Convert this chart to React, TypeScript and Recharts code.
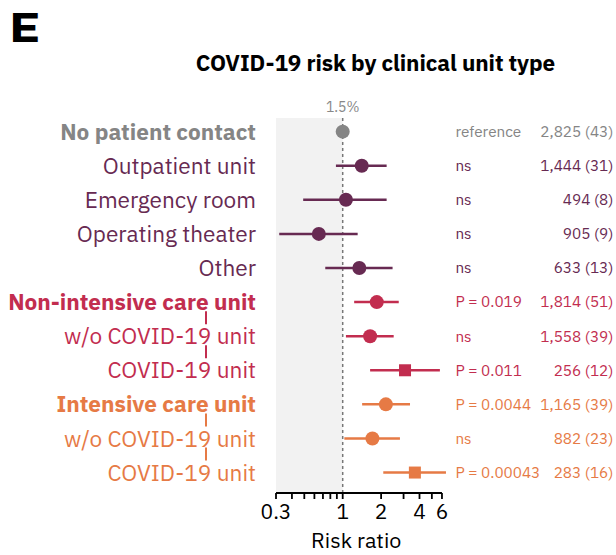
import React from 'react';
import {
  ScatterChart, Scatter, XAxis, YAxis, ErrorBar, ReferenceArea, ReferenceLine, Label,
} from 'recharts';

const categories = [
  'No patient contact', 'Outpatient unit', 'Emergency room', 'Operating theater', 'Other',
  'Non-intensive care unit', 'w/o COVID-19 unit', 'COVID-19 unit',
  'Intensive care unit', 'w/o COVID-19 unit', 'COVID-19 unit',
];
const riskRatio = [1.0, 1.41, 1.06, 0.65, 1.35, 1.85, 1.64, 3.08, 2.18, 1.71, 3.68];
const ciLow = [1.0, 0.885, 0.49, 0.318, 0.73, 1.23, 1.06, 1.64, 1.42, 1.03, 2.08];
const ciHigh = [1.0, 2.21, 2.21, 1.31, 2.46, 2.75, 2.51, 5.78, 3.37, 2.81, 6.45];
const pLabels = ['reference', 'ns', 'ns', 'ns', 'ns', 'P = 0.019', 'ns', 'P = 0.011', 'P = 0.0044', 'ns', 'P = 0.00043'];
const counts = ['2,825 (43)', '1,444 (31)', '494 (8)', '905 (9)', '633 (13)', '1,814 (51)', '1,558 (39)', '256 (12)', '1,165 (39)', '882 (23)', '283 (16)'];
const groupOf = [0, 1, 1, 1, 1, 2, 2, 2, 3, 3, 3];
const isHeader = [true, false, false, false, false, true, false, false, true, false, false];
const isChild = [false, false, false, false, false, false, true, true, false, true, true];
const isSquare = [false, false, false, false, false, false, false, true, false, false, true];
const groupColors = ['#858585', '#672a52', '#c22d4f', '#e67a45'];
const xTicks = [0.3, 0.4, 0.5, 0.6, 0.7, 0.8, 0.9, 1, 2, 3, 4, 5, 6];
const xTickLabels = [0.3, 1, 2, 4, 6];
const rowTicks = categories.map((_, i) => i);

const FONT = "'IBM Plex Sans', Roboto, sans-serif";

const rows = categories.map((name, i) => ({
  row: i,
  name,
  rr: riskRatio[i],
  err: [riskRatio[i] - ciLow[i], ciHigh[i] - riskRatio[i]],
  group: groupOf[i],
  square: isSquare[i],
}));

const MarkerShape = (props: any) => {
  const { cx, cy, payload } = props;
  const color = groupColors[payload.group];
  if (payload.square) {
    return <rect x={cx - 6} y={cy - 6} width={12} height={12} fill={color} />;
  }
  return <circle cx={cx} cy={cy} r={7} fill={color} />;
};

const LeftTick = (props: any) => {
  const { x, y, payload } = props;
  const i = payload.value;
  const color = groupColors[groupOf[i]];
  return (
    <g>
      <text x={x} y={y} dy="0.36em" textAnchor="end" fill={color}
        fontFamily={FONT} fontSize={22.6} fontWeight={isHeader[i] ? 700 : 400}>
        {categories[i]}
      </text>
      {isChild[i] && (
        <line x1={x - 50} x2={x - 50} y1={y - 25} y2={y - 12} stroke={color} strokeWidth={2} />
      )}
    </g>
  );
};

const RightTick = (props: any) => {
  const { x, y, payload } = props;
  const i = payload.value;
  const color = groupColors[groupOf[i]];
  return (
    <g fontFamily={FONT} fontSize={15.3} fill={color}>
      <text x={x + 9} y={y} dy="0.35em" textAnchor="start">{pLabels[i]}</text>
      <text x={x + 167} y={y} dy="0.35em" textAnchor="end">{counts[i]}</text>
    </g>
  );
};

const seriesGroups = [0, 1, 2, 3];

export default function App() {
  return (
    <div style={{ position: 'absolute', left: 0, top: 0, width: 616, height: 555, background: '#fff' }}>
      <div style={{ position: 'absolute', left: 9, top: 5, fontFamily: FONT, fontWeight: 900, fontSize: 40, lineHeight: '44px', color: '#000', transform: 'scaleX(1.3)', transformOrigin: 'left top' }}>E</div>
      <div style={{ position: 'absolute', left: 135, width: 481, top: 48, textAlign: 'center', fontFamily: FONT, fontWeight: 700, fontSize: 22.5, lineHeight: '30px', color: '#000', letterSpacing: '-0.1px' }}>
        COVID-19 risk by clinical unit type
      </div>
      <ScatterChart width={616} height={555} margin={{ top: 118, right: 0, bottom: 0, left: 0 }}
        style={{ position: 'absolute', left: 0, top: 0 }}>
        <ReferenceArea yAxisId="left" x1={0.3} x2={1} fill="#f2f2f2" fillOpacity={1} stroke="none" ifOverflow="visible" />
        <ReferenceLine yAxisId="left" x={1} stroke="#777" strokeWidth={1.5} strokeDasharray="3 3">
          <Label value="1.5%" position="top" offset={6} fill="#888" fontSize={14} fontFamily={FONT} />
        </ReferenceLine>
        <XAxis type="number" dataKey="rr" scale="log" domain={[0.3, 6.5]} ticks={xTicks} interval={0}
          height={62} axisLine={false} tickLine={{ stroke: '#000', strokeWidth: 1.8 }}
          tick={{ fill: '#000', fontSize: 21, fontFamily: FONT, dy: 3 }}
          tickFormatter={(v: number) => (xTickLabels.includes(v) ? String(v) : '')}>
          <Label value="Risk ratio" position="insideBottom" offset={7} dx={-5} fill="#000" fontSize={21.5} fontFamily={FONT} />
        </XAxis>
        <YAxis yAxisId="left" type="number" dataKey="row" domain={[-0.4, 10.6]} reversed ticks={rowTicks}
          interval={0} width={276} axisLine={false} tickLine={false} tickMargin={14} tick={<LeftTick />} />
        <YAxis yAxisId="right" orientation="right" type="number" dataKey="row" domain={[-0.4, 10.6]} reversed
          ticks={rowTicks} interval={0} width={169.6} axisLine={false} tickLine={false} tickSize={0} tickMargin={0}
          tick={<RightTick />} />
        <ReferenceLine yAxisId="left" ifOverflow="visible" stroke="#000" strokeWidth={2}
          segment={[{ x: 0.3, y: 10.6 }, { x: 6, y: 10.6 }]} />
        {seriesGroups.map((g) => (
          <Scatter key={g} yAxisId="left" data={rows.filter((r) => r.group === g)} shape={<MarkerShape />}
            isAnimationActive={false}>
            <ErrorBar dataKey="err" direction="x" width={0} stroke={groupColors[g]} strokeWidth={2.5}
              isAnimationActive={false} />
          </Scatter>
        ))}
        <Scatter yAxisId="right" data={rows} shape={() => <g />} isAnimationActive={false} />
      </ScatterChart>
    </div>
  );
}
